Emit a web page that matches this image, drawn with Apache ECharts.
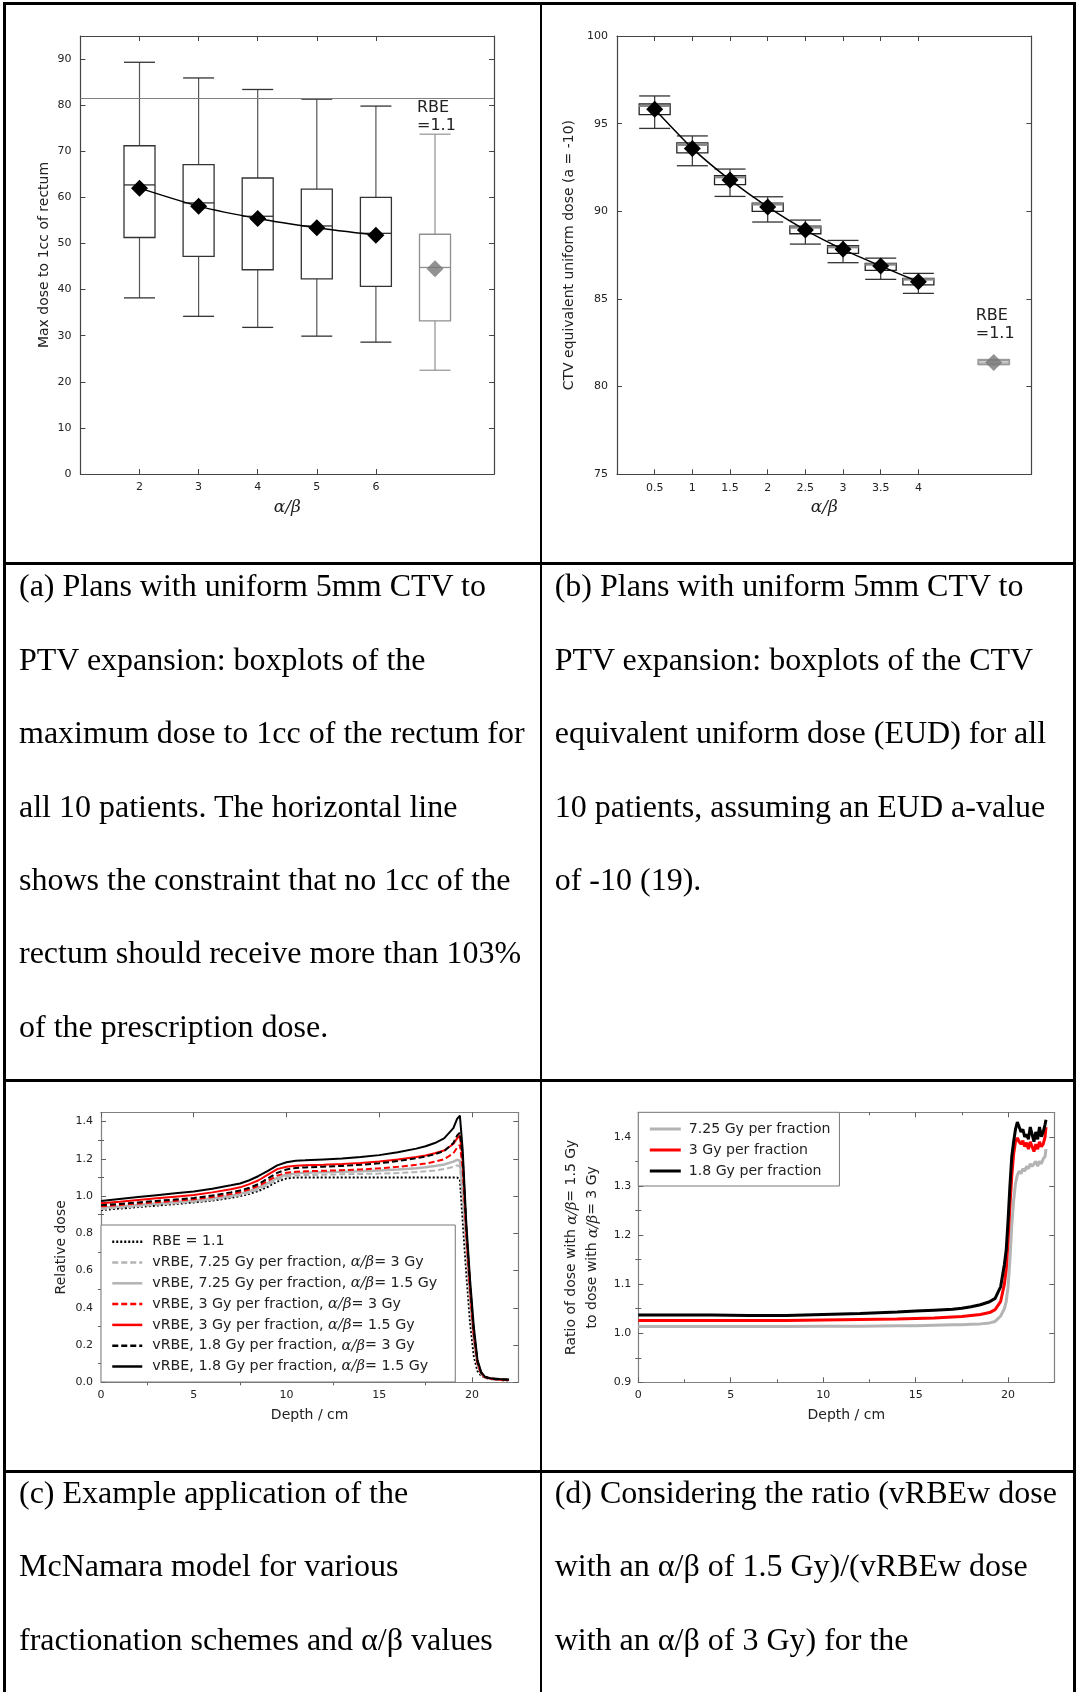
<!DOCTYPE html>
<html>
<head>
<meta charset="utf-8">
<script src="https://cdn.jsdelivr.net/npm/echarts@6/dist/echarts.min.js"></script>
<style>
  body { margin: 0; background: #fff; }
  #main { position: absolute; left: 0; top: 0; width: 1077px; height: 1692px; }
  .rule { position: absolute; background: #000; }
  .cap { position: absolute; font-family: 'Liberation Serif', 'Times New Roman', serif; font-size: 32px;
         line-height: 73.4px; color: #000; white-space: nowrap; }
</style>
</head>
<body>
<div id="main"></div>

<div class="rule" style="left:3px;top:2px;width:1073px;height:2.5px"></div>
<div class="rule" style="left:3px;top:2px;width:3px;height:1690px"></div>
<div class="rule" style="left:1073px;top:2px;width:3px;height:1690px"></div>
<div class="rule" style="left:539.5px;top:2px;width:2px;height:1690px"></div>
<div class="rule" style="left:3px;top:562px;width:1073px;height:2.5px"></div>
<div class="rule" style="left:3px;top:1079px;width:1073px;height:2.5px"></div>
<div class="rule" style="left:3px;top:1470px;width:1073px;height:2.5px"></div>

<div class="cap" style="left:19px;top:549.3px">(a) Plans with uniform 5mm CTV to<br>PTV expansion: boxplots of the<br>maximum dose to 1cc of the rectum for<br>all 10 patients. The horizontal line<br>shows the constraint that no 1cc of the<br>rectum should receive more than 103%<br>of the prescription dose.</div>
<div class="cap" style="left:554.7px;top:549.3px">(b) Plans with uniform 5mm CTV to<br>PTV expansion: boxplots of the CTV<br>equivalent uniform dose (EUD) for all<br>10 patients, assuming an EUD a-value<br>of -10 (19).</div>
<div class="cap" style="left:19px;top:1455.8px">(c) Example application of the<br>McNamara model for various<br>fractionation schemes and α/β values</div>
<div class="cap" style="left:554.7px;top:1455.8px">(d) Considering the ratio (vRBEw dose<br>with an α/β of 1.5 Gy)/(vRBEw dose<br>with an α/β of 3 Gy) for the</div>

<script>
// ---- (a) max dose to 1cc of rectum ----
const abA = [2, 3, 4, 5, 6];
const minA = [38.2, 34.2, 31.8, 29.9, 28.6];
const q1A = [51.3, 47.2, 44.3, 42.3, 40.7];
const medA = [62.7, 58.8, 55.9, 53.8, 52.2];
const q3A = [71.2, 67.1, 64.2, 61.8, 60.0];
const maxA = [89.3, 85.9, 83.4, 81.3, 79.8];
const meanA = [62.0, 58.1, 55.4, 53.4, 51.8];
const rbeXA = 7;
const rbeBoxA = [22.5, 33.2, 44.8, 52.0, 73.7];
const rbeMeanA = 44.5;
const constraintA = 81.6;
const yTicksA = [0, 10, 20, 30, 40, 50, 60, 70, 80, 90];

// ---- (b) CTV EUD ----
const abB = [0.5, 1, 1.5, 2, 2.5, 3, 3.5, 4];
const minB = [94.73, 92.60, 90.85, 89.39, 88.13, 87.07, 86.12, 85.32];
const q1B = [95.51, 93.33, 91.52, 90.00, 88.72, 87.60, 86.63, 85.80];
const medB = [96.02, 93.80, 91.95, 90.40, 89.08, 87.96, 86.97, 86.12];
const q3B = [96.12, 93.90, 92.03, 90.47, 89.16, 88.04, 87.03, 86.17];
const maxB = [96.58, 94.30, 92.41, 90.83, 89.50, 88.34, 87.33, 86.46];
const meanB = [95.82, 93.59, 91.79, 90.25, 88.93, 87.83, 86.88, 85.98];
const rbeXB = 5;
const rbeBoxB = [81.25, 81.28, 81.40, 81.52, 81.55];
const rbeMeanB = 81.38;
const yTicksB = [75, 80, 85, 90, 95, 100];

// ---- (c) relative dose vs depth ----
const depthC = [0, 1, 2, 3, 4, 5, 6, 7, 7.5, 8, 8.5, 9, 9.5, 10, 10.5, 11, 12, 13, 14, 15, 16, 17, 17.5, 18, 18.5, 19, 19.2, 19.35, 19.5, 19.7, 19.9, 20.1, 20.3, 20.5, 20.7, 21, 21.5, 22];
const rbe11 = [0.925, 0.933, 0.941, 0.949, 0.957, 0.966, 0.976, 0.99, 1.0, 1.012, 1.028, 1.05, 1.078, 1.095, 1.1, 1.1, 1.1, 1.1, 1.1, 1.1, 1.1, 1.1, 1.1, 1.1, 1.1, 1.1, 1.1, 1.09, 0.87, 0.58, 0.32, 0.14, 0.06, 0.035, 0.025, 0.018, 0.012, 0.01];
const v725ab3 = [0.93, 0.937, 0.945, 0.953, 0.961, 0.969, 0.98, 0.995, 1.005, 1.018, 1.036, 1.06, 1.088, 1.105, 1.111, 1.113, 1.115, 1.117, 1.119, 1.121, 1.124, 1.129, 1.133, 1.138, 1.145, 1.157, 1.165, 1.16, 1.0, 0.72, 0.44, 0.22, 0.09, 0.042, 0.026, 0.018, 0.013, 0.011];
const v725ab15 = [0.937, 0.944, 0.952, 0.96, 0.968, 0.976, 0.987, 1.002, 1.012, 1.026, 1.045, 1.07, 1.098, 1.115, 1.122, 1.125, 1.128, 1.131, 1.134, 1.138, 1.143, 1.15, 1.155, 1.162, 1.17, 1.185, 1.195, 1.19, 1.03, 0.74, 0.45, 0.23, 0.095, 0.044, 0.027, 0.019, 0.014, 0.012];
const v3ab3 = [0.945, 0.952, 0.96, 0.967, 0.975, 0.983, 0.995, 1.011, 1.021, 1.036, 1.055, 1.082, 1.11, 1.125, 1.131, 1.133, 1.136, 1.139, 1.143, 1.149, 1.157, 1.168, 1.175, 1.185, 1.198, 1.23, 1.26, 1.275, 1.15, 0.79, 0.49, 0.25, 0.1, 0.046, 0.027, 0.019, 0.014, 0.012];
const v3ab15 = [0.962, 0.97, 0.979, 0.988, 0.997, 1.006, 1.02, 1.037, 1.047, 1.064, 1.085, 1.115, 1.145, 1.158, 1.163, 1.165, 1.168, 1.172, 1.178, 1.186, 1.196, 1.21, 1.218, 1.23, 1.245, 1.28, 1.31, 1.325, 1.2, 0.81, 0.51, 0.26, 0.11, 0.05, 0.028, 0.02, 0.015, 0.012];
const v18ab3 = [0.951, 0.958, 0.966, 0.974, 0.982, 0.99, 1.003, 1.02, 1.03, 1.045, 1.065, 1.095, 1.125, 1.143, 1.151, 1.154, 1.158, 1.162, 1.168, 1.176, 1.188, 1.203, 1.212, 1.225, 1.242, 1.285, 1.325, 1.34, 1.21, 0.82, 0.52, 0.27, 0.11, 0.05, 0.028, 0.02, 0.015, 0.013];
const v18ab15 = [0.974, 0.985, 0.995, 1.005, 1.015, 1.025, 1.04, 1.058, 1.068, 1.085, 1.108, 1.135, 1.165, 1.182, 1.19, 1.192, 1.197, 1.202, 1.21, 1.22, 1.235, 1.255, 1.268, 1.285, 1.31, 1.365, 1.415, 1.432, 1.25, 0.85, 0.55, 0.3, 0.12, 0.055, 0.03, 0.022, 0.018, 0.015];
const namesC = ['RBE = 1.1', 'vRBE, 7.25 Gy per fraction, α/β= 3 Gy', 'vRBE, 7.25 Gy per fraction, α/β= 1.5 Gy',
  'vRBE, 3 Gy per fraction, α/β= 3 Gy', 'vRBE, 3 Gy per fraction, α/β= 1.5 Gy',
  'vRBE, 1.8 Gy per fraction, α/β= 3 Gy', 'vRBE, 1.8 Gy per fraction, α/β= 1.5 Gy'];

// ---- (d) ratio of doses ----
const depthD = [0, 2, 4, 6, 8, 10, 12, 14, 15, 16, 17, 17.5, 18, 18.5, 19, 19.3, 19.6, 19.8, 19.9, 20.0, 20.1, 20.2, 20.3, 20.4, 20.5, 20.6, 20.7, 20.8, 20.9, 21.0, 21.1, 21.2, 21.3, 21.4, 21.5, 21.6, 21.7, 21.8, 21.9, 22.0, 22.05];
const ratio725 = [1.0135, 1.0135, 1.0135, 1.0135, 1.0135, 1.014, 1.014, 1.015, 1.015, 1.016, 1.017, 1.017, 1.018, 1.019, 1.021, 1.024, 1.035, 1.05, 1.065, 1.095, 1.15, 1.22, 1.27, 1.305, 1.322, 1.33, 1.325, 1.335, 1.33, 1.34, 1.335, 1.345, 1.34, 1.345, 1.35, 1.34, 1.35, 1.345, 1.355, 1.36, 1.375];
const ratio3 = [1.026, 1.026, 1.026, 1.026, 1.026, 1.027, 1.028, 1.029, 1.030, 1.031, 1.033, 1.034, 1.036, 1.038, 1.042, 1.048, 1.065, 1.10, 1.13, 1.19, 1.26, 1.32, 1.365, 1.39, 1.398, 1.39, 1.385, 1.392, 1.38, 1.388, 1.375, 1.39, 1.38, 1.37, 1.385, 1.375, 1.39, 1.38, 1.385, 1.40, 1.42];
const ratio18 = [1.037, 1.037, 1.037, 1.036, 1.036, 1.038, 1.040, 1.043, 1.045, 1.047, 1.049, 1.051, 1.054, 1.058, 1.064, 1.071, 1.095, 1.14, 1.17, 1.23, 1.30, 1.36, 1.39, 1.415, 1.43, 1.42, 1.41, 1.415, 1.40, 1.405, 1.395, 1.42, 1.405, 1.39, 1.41, 1.395, 1.42, 1.40, 1.41, 1.425, 1.435];
const namesD = ['7.25 Gy per fraction', '3 Gy per fraction', '1.8 Gy per fraction'];

const xTicksCD = [0, 5, 10, 15, 20];
const xMinorCD = [2.5, 7.5, 12.5, 17.5];
const yTicksC = [0, 0.2, 0.4, 0.6, 0.8, 1.0, 1.2, 1.4];
const yMinorC = [0.1, 0.3, 0.5, 0.7, 0.9, 1.1, 1.3];
const yTicksD = [0.9, 1.0, 1.1, 1.2, 1.3, 1.4];
const yMinorD = [0.95, 1.05, 1.15, 1.25, 1.35];

const FONT = 'DejaVu Sans';
const mathStyle = { fontFamily: 'DejaVu Serif', fontStyle: 'italic' };

const xAxes = [];
const yAxes = [];

// gnuplot-like frame: labelled bottom/left axes, mirrored ticks on top/right
function addFrame(gi, o) {
  const idx = { x: xAxes.length, y: yAxes.length };
  const line = { show: true, onZero: false, lineStyle: { color: o.lineColor, width: 1.2 } };
  const tick = (vals, len) => ({ show: true, inside: true, length: len, customValues: vals,
    lineStyle: { color: o.tickColor, width: 1 } });
  const base = { type: 'value', splitLine: { show: false }, nameMoveOverlap: false };
  ['bottom', 'top'].forEach((pos, k) => {
    xAxes.push(Object.assign({}, base, {
      gridIndex: gi, position: pos, min: o.xMin, max: o.xMax,
      axisLine: line, axisTick: tick(o.xTicks, 5),
      axisLabel: k === 0 ? { show: true, customValues: o.xTicks, margin: o.xMargin, fontSize: o.labelSize,
        fontFamily: FONT, color: '#222', formatter: o.xFmt } : { show: false },
      name: k === 0 ? o.xName : '', nameLocation: 'middle', nameGap: o.xNameGap,
      nameTextStyle: o.xNameStyle
    }));
    if (o.xMinor) xAxes.push(Object.assign({}, base, {
      gridIndex: gi, position: pos, min: o.xMin, max: o.xMax,
      axisLine: { show: false }, axisTick: tick(o.xMinor, 3), axisLabel: { show: false }
    }));
  });
  ['left', 'right'].forEach((pos, k) => {
    yAxes.push(Object.assign({}, base, {
      gridIndex: gi, position: pos, min: o.yMin, max: o.yMax,
      axisLine: line, axisTick: tick(o.yTicks, 5),
      axisLabel: k === 0 ? { show: true, customValues: o.yTicks, margin: o.yMargin, fontSize: o.labelSize,
        fontFamily: FONT, color: '#222', formatter: o.yFmt } : { show: false },
      name: k === 0 ? o.yName : '', nameLocation: 'middle', nameGap: o.yNameGap,
      nameTextStyle: o.yNameStyle
    }));
    if (o.yMinor) yAxes.push(Object.assign({}, base, {
      gridIndex: gi, position: pos, min: o.yMin, max: o.yMax,
      axisLine: { show: false }, axisTick: tick(o.yMinor, 3), axisLabel: { show: false }
    }));
  });
  return idx;
}

const plain = v => String(v);
const oneDec = v => v.toFixed(1);
const nameSans = { fontFamily: FONT, fontSize: 14, color: '#222' };
const nameMath = Object.assign({ fontSize: 17, color: '#222' }, mathStyle);

const fa = addFrame(0, { xMin: 1, xMax: 8, yMin: 0, yMax: 95, xTicks: abA, yTicks: yTicksA,
  lineColor: '#444', tickColor: '#444', labelSize: 11, xMargin: 8, yMargin: 9, xFmt: plain, yFmt: plain,
  xName: 'α/β', xNameGap: 25, xNameStyle: nameMath,
  yName: 'Max dose to 1cc of rectum', yNameGap: 29, yNameStyle: nameSans });
const fb = addFrame(1, { xMin: 0, xMax: 5.5, yMin: 75, yMax: 100, xTicks: abB, yTicks: yTicksB,
  lineColor: '#444', tickColor: '#444', labelSize: 11, xMargin: 8, yMargin: 9, xFmt: plain, yFmt: plain,
  xName: 'α/β', xNameGap: 25, xNameStyle: nameMath,
  yName: 'CTV equivalent uniform dose (a = -10)', yNameGap: 41, yNameStyle: nameSans });
const fc = addFrame(2, { xMin: 0, xMax: 22.5, yMin: 0, yMax: 1.45, xTicks: xTicksCD, yTicks: yTicksC,
  xMinor: xMinorCD, yMinor: yMinorC,
  lineColor: '#808080', tickColor: '#606060', labelSize: 11, xMargin: 7, yMargin: 8, xFmt: plain, yFmt: oneDec,
  xName: 'Depth / cm', xNameGap: 26, xNameStyle: nameSans,
  yName: 'Relative dose', yNameGap: 33, yNameStyle: nameSans });
const fd = addFrame(3, { xMin: 0, xMax: 22.5, yMin: 0.9, yMax: 1.45, xTicks: xTicksCD, yTicks: yTicksD,
  xMinor: xMinorCD, yMinor: yMinorD,
  lineColor: '#808080', tickColor: '#606060', labelSize: 11, xMargin: 7, yMargin: 7, xFmt: plain, yFmt: oneDec,
  xName: 'Depth / cm', xNameGap: 26, xNameStyle: nameSans,
  yName: '{t|Ratio of dose with }{m|α/β}{t|= 1.5 Gy}\n{t|to dose with }{m|α/β}{t|= 3 Gy}', yNameGap: 35,
  yNameStyle: { lineHeight: 21, rich: {
    t: { fontFamily: FONT, fontSize: 14, color: '#222', lineHeight: 21 },
    m: Object.assign({ fontSize: 14.5, color: '#222', lineHeight: 21 }, mathStyle) } } });

function boxRender(c, labelText, labelGap) {
  return function (params, api) {
    const x = api.value(0);
    const p = [1, 2, 3, 4, 5].map(i => api.coord([x, api.value(i)]));
    const cx = p[0][0], hw = 15.5;
    const ln = (x1, y1, x2, y2, col, w) => ({ type: 'line', shape: { x1, y1, x2, y2 }, style: { stroke: col, lineWidth: w } });
    const kids = [
      ln(cx, p[0][1], cx, p[1][1], c.whisker, 1.2),
      ln(cx, p[3][1], cx, p[4][1], c.whisker, 1.2),
      ln(cx - hw, p[0][1], cx + hw, p[0][1], c.cap, 1.3),
      ln(cx - hw, p[4][1], cx + hw, p[4][1], c.cap, 1.3),
      { type: 'rect', shape: { x: cx - hw, y: p[3][1], width: 2 * hw, height: p[1][1] - p[3][1] },
        style: { fill: '#fff', stroke: c.box, lineWidth: c.boxWidth || 1.3 } },
      ln(cx - hw, p[2][1], cx + hw, p[2][1], c.median, c.medWidth || 1.3)
    ];
    if (labelText) kids.push({ type: 'text', x: cx - 18, y: p[4][1] - labelGap,
      style: { text: labelText, fill: '#222', font: '16px "DejaVu Sans"', lineHeight: 17.5,
        align: 'left', verticalAlign: 'bottom' } });
    return { type: 'group', children: kids };
  };
}

const boxRows = (xs, mn, q1, md, q3, mx) => xs.map((x, i) => [x, mn[i], q1[i], md[i], q3[i], mx[i]]);
const pairs = (xs, ys) => xs.map((x, i) => [x, ys[i]]);

const darkBox = { whisker: '#555', cap: '#333', box: '#333', median: '#333' };
const darkBoxB = { whisker: '#333', cap: '#333', box: '#222', median: '#888', medWidth: 2.5 };
const greyBox = { whisker: '#8f8f8f', cap: '#9a9a9a', box: '#8f8f8f', median: '#8f8f8f' };
const greyBoxB = { whisker: '#999', cap: '#999', box: '#999', median: '#aaa', boxWidth: 1.8 };

const series = [
  { type: 'custom', xAxisIndex: fa.x, yAxisIndex: fa.y, renderItem: boxRender(darkBox),
    encode: { x: 0, y: [1, 2, 3, 4, 5] }, data: boxRows(abA, minA, q1A, medA, q3A, maxA), z: 2 },
  { type: 'custom', xAxisIndex: fa.x, yAxisIndex: fa.y, renderItem: boxRender(greyBox, 'RBE\n=1.1', 0),
    encode: { x: 0, y: [1, 2, 3, 4, 5] }, data: [[rbeXA].concat(rbeBoxA)], z: 2 },
  { type: 'line', xAxisIndex: fa.x, yAxisIndex: fa.y, data: pairs(abA, meanA), smooth: 0.25,
    symbol: 'diamond', symbolSize: 17, itemStyle: { color: '#000' }, lineStyle: { color: '#000', width: 1.5 }, z: 4,
    markLine: { silent: true, symbol: ['none', 'none'], label: { show: false },
      lineStyle: { color: '#808080', width: 1, type: 'solid' }, data: [{ yAxis: constraintA }] } },
  { type: 'scatter', xAxisIndex: fa.x, yAxisIndex: fa.y, data: [[rbeXA, rbeMeanA]],
    symbol: 'diamond', symbolSize: 17, itemStyle: { color: '#777' }, z: 4 },

  { type: 'custom', xAxisIndex: fb.x, yAxisIndex: fb.y, renderItem: boxRender(darkBoxB),
    encode: { x: 0, y: [1, 2, 3, 4, 5] }, data: boxRows(abB, minB, q1B, medB, q3B, maxB), z: 2 },
  { type: 'custom', xAxisIndex: fb.x, yAxisIndex: fb.y, renderItem: boxRender(greyBoxB, 'RBE\n=1.1', 17),
    encode: { x: 0, y: [1, 2, 3, 4, 5] }, data: [[rbeXB].concat(rbeBoxB)], z: 2 },
  { type: 'line', xAxisIndex: fb.x, yAxisIndex: fb.y, data: pairs(abB, meanB), smooth: 0.2,
    symbol: 'diamond', symbolSize: 17, itemStyle: { color: '#000' }, lineStyle: { color: '#000', width: 1.5 }, z: 4 },
  { type: 'scatter', xAxisIndex: fb.x, yAxisIndex: fb.y, data: [[rbeXB, rbeMeanB]],
    symbol: 'diamond', symbolSize: 17, itemStyle: { color: '#777' }, z: 4 }
];

const dotted = [2, 2], dashed = [6, 3];
const cStyles = [
  { color: '#000', type: dotted, width: 2 },
  { color: '#b4b4b4', type: dashed, width: 2 },
  { color: '#b4b4b4', type: 'solid', width: 2.5 },
  { color: '#ff0000', type: dashed, width: 2 },
  { color: '#ff0000', type: 'solid', width: 2 },
  { color: '#000', type: dashed, width: 2 },
  { color: '#000', type: 'solid', width: 2 }
];
[rbe11, v725ab3, v725ab15, v3ab3, v3ab15, v18ab3, v18ab15].forEach((vals, i) => {
  series.push({ type: 'line', name: namesC[i], xAxisIndex: fc.x, yAxisIndex: fc.y, data: pairs(depthC, vals),
    symbol: 'none', showSymbol: false, itemStyle: { color: cStyles[i].color }, lineStyle: cStyles[i], z: 3 + i * 0.1 });
});
const dColors = ['#b4b4b4', '#ff0000', '#000'];
[ratio725, ratio3, ratio18].forEach((vals, i) => {
  series.push({ type: 'line', name: namesD[i], xAxisIndex: fd.x, yAxisIndex: fd.y, data: pairs(depthD, vals),
    symbol: 'none', showSymbol: false, itemStyle: { color: dColors[i] },
    lineStyle: { color: dColors[i], width: 3 }, z: 3 + i * 0.1 });
});

function richName(name) {
  return '{sp|}' + name.split('α/β').map(s => s ? '{t|' + s + '}' : '').join('{m|α/β}');
}
const legendRich = (gap, size) => ({
  sp: { width: gap },
  t: { fontFamily: FONT, fontSize: size, color: '#222' },
  m: Object.assign({ fontSize: size + 0.5, color: '#222' }, mathStyle)
});

const option = {
  animation: false,
  grid: [
    { left: 80.4, top: 36, width: 413.7, height: 438, outerBoundsMode: 'none' },
    { left: 617, top: 36, width: 414.4, height: 438.3, outerBoundsMode: 'none' },
    { left: 101, top: 1112.3, width: 417.3, height: 270, outerBoundsMode: 'none' },
    { left: 638.3, top: 1112.3, width: 416, height: 270, outerBoundsMode: 'none' }
  ],
  xAxis: xAxes,
  yAxis: yAxes,
  legend: [
    { data: namesC, orient: 'vertical', left: 101, top: 1225, itemWidth: 30, itemHeight: 14, itemGap: 4.8,
      padding: [8.7, 18, 7.5, 10], borderColor: '#777', borderWidth: 1, backgroundColor: '#fff',
      selectedMode: false, formatter: richName, itemStyle: { opacity: 0 }, lineStyle: { width: 2.5 },
      textStyle: { fontFamily: FONT, fontSize: 14.25, color: '#222', lineHeight: 16, rich: legendRich(5, 14.25) } },
    { data: namesD, orient: 'vertical', left: 638.3, top: 1112.3, itemWidth: 31, itemHeight: 14, itemGap: 5,
      padding: [8.7, 9, 7, 10], borderColor: '#777', borderWidth: 1, backgroundColor: '#fff',
      selectedMode: false, formatter: richName, itemStyle: { opacity: 0 }, lineStyle: { width: 3 },
      textStyle: { fontFamily: FONT, fontSize: 14.1, color: '#222', lineHeight: 16, rich: legendRich(3, 14.1) } }
  ],
  series: series
};

const chart = echarts.init(document.getElementById('main'), null, { renderer: 'canvas' });
chart.setOption(option);
</script>
</body>
</html>
